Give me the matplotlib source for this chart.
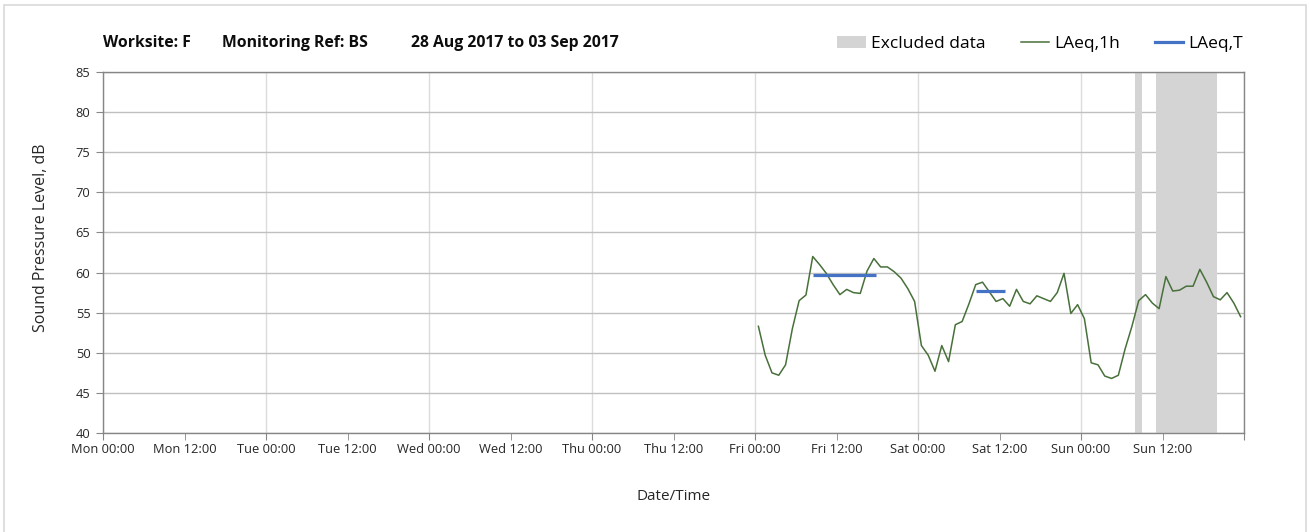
import matplotlib
matplotlib.use('Agg')
import matplotlib.pyplot as plt
import matplotlib.dates as mdates
import matplotlib.patches as mpatches
import matplotlib.lines as mlines
import pandas as pd

# hourly LAeq,1h readings, Fri 01 Sep 2017 00:30 onwards
laeq_1h = [53.3, 49.7, 47.5, 47.2, 48.5, 53.0, 56.5, 57.2, 62.0, 61.0,
           59.9, 58.5, 57.25, 57.9, 57.5, 57.4, 60.2, 61.75, 60.7, 60.7,
           60.1, 59.3, 58.0, 56.4, 50.9, 49.7, 47.7, 50.9, 48.9, 53.5,
           53.9, 56.1, 58.5, 58.8, 57.6, 56.4, 56.75, 55.8, 57.9, 56.4,
           56.1, 57.1, 56.75, 56.4, 57.5, 59.9, 54.9, 56.0, 54.25, 48.75,
           48.5, 47.1, 46.8, 47.2, 50.5, 53.3, 56.5, 57.25, 56.2, 55.5,
           59.5, 57.7, 57.8, 58.3, 58.3, 60.4, 58.8, 57.0, 56.6, 57.5,
           56.2, 54.5]
first_reading = '2017-09-01 00:30'

# LAeq,T periods (start, end, level)
laeq_t = [('2017-09-01 08:30', '2017-09-01 17:45', 59.7),
          ('2017-09-02 08:30', '2017-09-02 12:45', 57.75)]

# excluded periods
excluded = [('2017-09-03 08:00', '2017-09-03 09:00'),
            ('2017-09-03 11:00', '2017-09-03 20:00')]

week_start = '2017-08-28 00:00'
week_end = '2017-09-04 00:00'

title_parts = ['Worksite: F', 'Monitoring Ref: BS', '28 Aug 2017 to 03 Sep 2017']

green = '#48703a'
blue = '#4472c4'
band = '#d4d4d4'

plt.rcParams['font.family'] = ['Open Sans', 'DejaVu Sans']

fig = plt.figure(figsize=(13.09, 5.32), dpi=100)
ax = fig.add_axes([103 / 1309, 99 / 532, 1141 / 1309, 361 / 532])

# outer chart border
fig.patches.append(mpatches.Rectangle((4 / 1309, -0.05), 1302 / 1309, 1.05 - 5 / 532,
                                      transform=fig.transFigure, fill=False,
                                      edgecolor='#d9d9d9', lw=1.2))

times = pd.date_range(first_reading, periods=len(laeq_1h), freq='h')

for s, e in excluded:
    ax.axvspan(pd.Timestamp(s), pd.Timestamp(e), color=band, lw=0, zorder=1)

ax.plot(times, laeq_1h, color=green, lw=1.1, zorder=3)
for s, e, v in laeq_t:
    ax.plot([pd.Timestamp(s), pd.Timestamp(e)], [v, v], color=blue, lw=2.3,
            solid_capstyle='butt', zorder=4)

ax.set_xlim(pd.Timestamp(week_start), pd.Timestamp(week_end))
ax.set_ylim(40, 85)
ax.set_yticks(range(40, 86, 5))

ax.xaxis.set_major_locator(mdates.DayLocator())
ax.xaxis.set_major_formatter(mdates.DateFormatter('%a %H:%M'))
ax.xaxis.set_minor_locator(mdates.HourLocator(byhour=[12]))
ax.xaxis.set_minor_formatter(mdates.DateFormatter('%a %H:%M'))
ax.tick_params(axis='x', which='both', length=5, color='#868686',
               labelsize=9.3, labelcolor='#262626', pad=2)
ax.tick_params(axis='y', length=5, color='#868686', labelsize=9.3,
               labelcolor='#262626', pad=4)
# the right end (next Monday) has a tick but no label
ax.xaxis.get_major_ticks()[-1].label1.set_visible(False)

ax.grid(axis='y', color='#c0c0c0', lw=1.0, zorder=0)
ax.grid(axis='x', which='major', color='#dcdcdc', lw=1.0, zorder=0)
ax.set_axisbelow(True)
for sp in ax.spines.values():
    sp.set_color('#868686')
    sp.set_linewidth(1.0)

ax.set_xlabel('Date/Time', fontsize=11, color='#262626', labelpad=24)
ax.set_ylabel('Sound Pressure Level, dB', fontsize=11.5, color='#262626')
ax.yaxis.set_label_coords(-54 / 1141, (433 - 238) / 361)

for txt, xpix in zip(title_parts, [103, 222, 411]):
    fig.text(xpix / 1309, 1 - 43 / 532, txt, fontsize=11.3, fontweight='bold',
             va='center', ha='left', color='#0d0d0d')

handles = [mpatches.Patch(color=band, lw=0),
           mlines.Line2D([], [], color=green, lw=1.1),
           mlines.Line2D([], [], color=blue, lw=2.3)]
fig.legend(handles, ['Excluded data', 'LAeq,1h', 'LAeq,T'], ncol=3,
           loc='center right', bbox_to_anchor=(1252 / 1309, 1 - 44 / 532),
           frameon=False, fontsize=12.5, handlelength=1.65, handletextpad=0.3,
           columnspacing=2.0, handleheight=0.7, borderpad=0)

fig.savefig('out.png', dpi=100)
